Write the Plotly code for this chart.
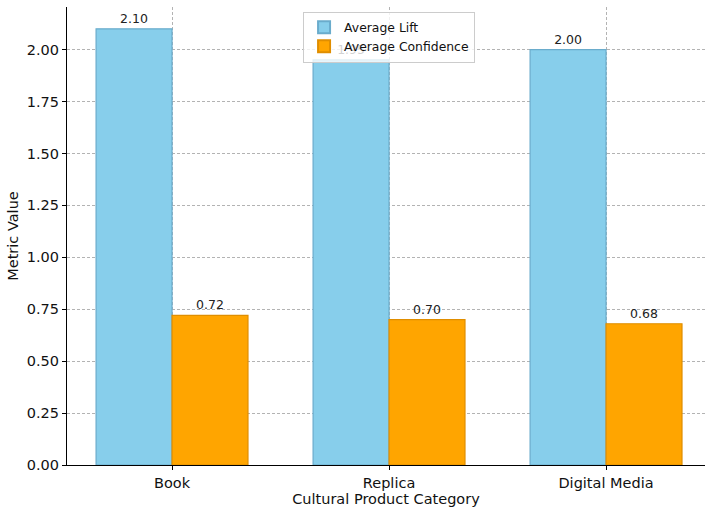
import plotly.graph_objects as go

categories = ["Book", "Replica", "Digital Media"]
avg_lift = [2.10, 1.95, 2.00]
avg_confidence = [0.72, 0.70, 0.68]
y_ticks = [0.00, 0.25, 0.50, 0.75, 1.00, 1.25, 1.50, 1.75, 2.00]

FONT = "DejaVu Sans"

fig = go.Figure()
fig.add_trace(go.Bar(
    x=categories, y=avg_lift, name="Average Lift",
    marker=dict(color="#87CEEB", line=dict(color="#6aaccc", width=1.2)),
    texttemplate="%{y:.2f}", textposition="outside",
    textfont=dict(size=12.5, color="#222222", family=FONT),
    cliponaxis=False,
))
fig.add_trace(go.Bar(
    x=categories, y=avg_confidence, name="Average Confidence",
    marker=dict(color="#FFA500", line=dict(color="#e08e00", width=1.2)),
    texttemplate="%{y:.2f}", textposition="outside",
    textfont=dict(size=12.5, color="#222222", family=FONT),
    cliponaxis=False,
))

fig.update_layout(
    width=705, height=508,
    margin=dict(l=67, r=0, t=7, b=43),
    paper_bgcolor="white", plot_bgcolor="white",
    barmode="group", bargap=0.3, bargroupgap=0,
    font=dict(family=FONT, size=14.5, color="#111111"),
    showlegend=True,
    legend=dict(
        x=0.37, y=0.99, xanchor="left", yanchor="top",
        bgcolor="rgba(255,255,255,0.8)", bordercolor="#cccccc", borderwidth=1,
        font=dict(size=12.4, family=FONT, color="#111111"),
        tracegroupgap=0, itemsizing="constant", itemwidth=30,
    ),
)
fig.update_xaxes(
    range=[-0.484, 2.456],
    title=dict(text="Cultural Product Category", font=dict(size=14.5, family=FONT), standoff=4),
    showline=True, linecolor="black", linewidth=1.2,
    ticks="outside", ticklen=4, tickcolor="black", tickwidth=1,
    showgrid=True, gridcolor="#b3b3b3", griddash="3px,2px", gridwidth=0.8,
    tickfont=dict(size=14.5, family=FONT),
)
fig.update_yaxes(
    range=[0, 2.205],
    tickvals=y_ticks, ticktext=[f"{v:.2f}" for v in y_ticks],
    title=dict(text="Metric Value", font=dict(size=14.5, family=FONT), standoff=4),
    showline=True, linecolor="black", linewidth=1.2,
    ticks="outside", ticklen=4, tickcolor="black", tickwidth=1,
    showgrid=True, gridcolor="#b3b3b3", griddash="3px,2px", gridwidth=0.8,
    zeroline=False,
    tickfont=dict(size=14.5, family=FONT),
)

fig.write_html("out.html")
